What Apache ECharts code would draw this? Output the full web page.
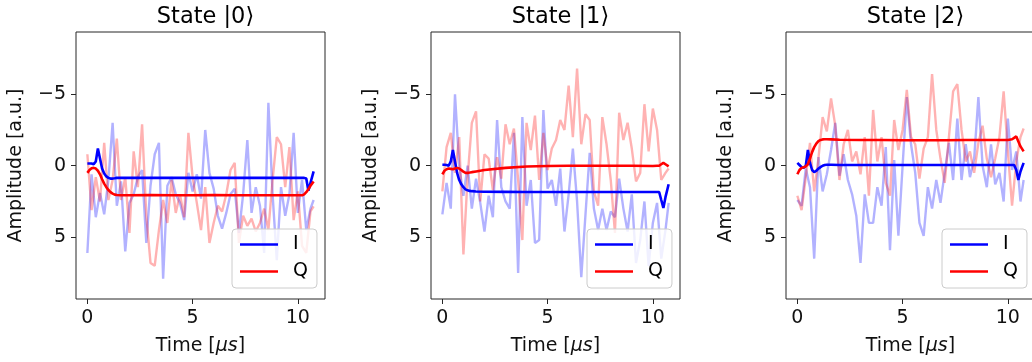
<!DOCTYPE html>
<html><head><meta charset="utf-8">
<script src="https://cdn.jsdelivr.net/npm/echarts@6/dist/echarts.min.js"></script>
<style>html,body{margin:0;padding:0;overflow:hidden;background:#fff}#c{width:1040px;height:362px}</style>
</head><body><div id="c"></div>
<script>
// ---- data ----
const panelTitles = ['State |0\u27E9', 'State |1\u27E9', 'State |2\u27E9'];
const xTicks = [0, 5, 10];
const yTicks = [-5, 0, 5];
const rawTime = [0,0.2,0.4,0.6,0.8,1.0,1.2,1.4,1.6,1.8,2.0,2.2,2.4,2.6,2.8,3.0,3.2,3.4,3.6,3.8,4.0,4.2,4.4,4.6,4.8,5.0,5.2,5.4,5.6,5.8,6.0,6.2,6.4,6.6,6.8,7.0,7.2,7.4,7.6,7.8,8.0,8.2,8.4,8.6,8.8,9.0,9.2,9.4,9.6,9.8,10.0,10.2,10.4,10.6,10.75];
const meanTime = [0,0.1,0.2,0.3,0.4,0.5,0.6,0.7,0.8,0.9,1.0,1.1,1.2,1.3,1.4,1.6,2,3,4,5,6,7,8,9,10,10.2,10.3,10.4,10.5,10.6,10.75];

const i0Raw = [6.1,0.6,3.6,1.9,3.4,1.0,-3.0,2.8,1.1,6.0,2.6,2.0,0.8,0.3,5.4,1.4,-0.8,-1.6,7.9,1.4,0.8,2.0,2.6,3.8,0.5,1.8,0.6,2.3,-2.5,0.5,1.6,3.5,4.4,3.3,2.0,1.6,4.7,2.0,-1.8,3.3,1.5,2.8,6.1,-4.4,2.0,6.6,1.5,3.5,2.0,-2.3,3.3,1.0,4.5,3.0,2.4];
const q0Raw = [-0.8,3.1,0.8,2.5,-1.6,2.4,1.0,-1.9,2.4,0.8,4.7,-1.0,1.5,-2.9,3.5,6.8,7.0,4.5,2.4,4.0,1.0,3.3,2.0,3.6,-2.3,0.8,2.6,4.5,1.5,5.4,4.0,2.8,3.2,2.0,0.3,-0.2,5.4,3.5,4.2,3.7,4.6,4.0,3.0,4.5,1.0,-2.0,-1.5,1.5,-1.3,3.8,1.8,5.6,6.1,3.2,2.85];
const i0Mean = [-0.15,-0.15,-0.15,-0.1,-0.3,-1.2,-0.5,0.2,0.55,0.75,0.85,0.9,0.9,0.88,0.85,0.85,0.85,0.84,0.85,0.84,0.85,0.85,0.84,0.85,0.85,0.85,0.85,0.9,1.75,1.2,0.4];
const q0Mean = [0.5,0.3,0.18,0.15,0.2,0.35,0.6,0.95,1.25,1.5,1.7,1.85,1.95,2.02,2.05,2.07,2.07,2.06,2.07,2.07,2.06,2.07,2.07,2.07,2.07,2.07,2.0,1.85,1.65,1.4,1.1];

const i1Raw = [3.4,1.2,3.0,-5.0,0.0,2.1,0.0,3.0,0.9,2.6,4.6,2.1,3.6,-3.2,1.5,2.5,3.0,-2.3,7.5,-3.4,2.8,1.0,5.4,5.2,-3.9,1.6,1.0,2.8,0.2,4.6,2.0,-1.2,2.5,7.8,3.4,-0.9,3.0,4.5,3.0,4.5,3.2,3.6,0.9,3.0,4.6,2.0,6.8,5.2,2.5,7.0,4.0,2.6,6.5,4.5,2.6];
const q1Raw = [1.8,-1.3,-2.3,0.5,-2.0,6.2,0.8,-3.0,-3.8,2.5,-0.8,-0.5,1.7,-0.6,0.9,-2.9,-1.5,-2.6,1.0,5.2,-3.0,-1.1,-3.5,1.0,-2.3,0.3,-1.2,-1.8,-3.2,-2.5,-5.6,-2.0,-6.8,-1.5,-3.6,-3.2,1.8,2.8,-3.4,-1.5,1.0,4.7,-3.7,-1.8,-3.0,-1.2,1.1,0.5,-4.3,-1.0,-4.0,-2.5,1.0,0.5,0.2];
const i1Mean = [-0.07,-0.07,-0.05,0.0,-0.3,-1.1,-0.3,0.5,1.0,1.3,1.5,1.65,1.72,1.76,1.78,1.8,1.82,1.83,1.84,1.84,1.84,1.84,1.84,1.84,1.84,1.84,1.84,2.4,2.95,2.2,1.3];
const q1Mean = [0.6,0.35,0.25,0.2,0.22,0.25,0.2,0.15,0.2,0.3,0.42,0.5,0.5,0.48,0.45,0.4,0.3,0.15,0.05,0.02,0.0,0.0,0.0,0.0,0.02,0.0,0.0,-0.1,-0.2,-0.1,0.05];

const i2Raw = [2.4,2.8,0.2,1.5,6.5,-0.6,1.8,0.6,-1.1,-3.0,0.7,-0.8,1.0,2.0,3.5,6.8,2.0,4.0,4.0,1.5,2.8,-1.3,5.9,-0.4,4.9,0.0,-4.8,-1.5,0.5,4.0,4.9,1.5,3.0,1.0,2.6,0.5,-1.6,1.0,-3.3,1.0,-1.5,0.8,-0.5,-4.8,0.0,1.5,-1.5,1.3,0.5,2.5,-3.3,0.3,-1.0,2.5,1.0];
const q2Raw = [2.1,3.1,0.8,-1.6,1.8,-0.5,-3.4,-2.4,-4.7,-2.8,1.0,-1.5,-2.5,-0.3,-1.0,0.6,-2.0,2.1,-3.9,-0.3,-2.0,1.2,2.1,-3.2,-1.1,-2.5,-5.3,-2.0,-1.5,0.9,-1.2,-2.0,-6.4,-2.5,-0.5,1.2,-2.0,-5.2,-5.7,-2.5,-0.3,-1.0,0.5,-1.6,-2.8,-0.5,0.8,-0.5,-2.0,-5.2,-1.0,2.8,-0.3,-2.0,-2.6];
const i2Mean = [-0.2,-0.05,0.1,0.15,0.0,-1.1,-0.2,0.3,0.45,0.35,0.2,0.1,0.0,-0.05,-0.07,-0.07,-0.05,-0.05,-0.05,-0.05,-0.05,-0.05,-0.05,-0.05,-0.05,-0.05,-0.05,0.3,1.0,0.4,-0.2];
const q2Mean = [0.6,0.3,0.15,0.1,0.05,-0.1,-0.5,-0.95,-1.3,-1.55,-1.72,-1.8,-1.84,-1.85,-1.85,-1.84,-1.82,-1.8,-1.8,-1.78,-1.78,-1.78,-1.8,-1.8,-1.8,-1.85,-1.95,-2.05,-1.7,-1.35,-1.0];

const rawI = [i0Raw, i1Raw, i2Raw];
const rawQ = [q0Raw, q1Raw, q2Raw];
const meanI = [i0Mean, i1Mean, i2Mean];
const meanQ = [q0Mean, q1Mean, q2Mean];

// ---- layout ----
const FONT = 'DejaVu Sans';
const FS = 19;
const gridLefts = [76, 431, 786];
const GW = 249, GT = 32, GH = 267;
const pair = (xs, ys) => xs.map((x, k) => [x, ys[k]]);
const minus = v => (v < 0 ? '\u2212' + Math.abs(v) : String(v));
const TXT = '#111111';

const grids = [], xAxes = [], yAxes = [], series = [], titles = [], legends = [];
for (let p = 0; p < 3; p++) {
  const L = gridLefts[p];
  grids.push({left: L, top: GT, width: GW, height: GH, show: true, borderColor: '#262626', borderWidth: 1, backgroundColor: 'transparent', containLabel: false});
  xAxes.push({
    type: 'value', gridIndex: p, min: -0.54, max: 11.29,
    axisLine: {show: false, onZero: false}, splitLine: {show: false},
    axisTick: {show: true, inside: false, length: 5, lineStyle: {color: '#262626'}, customValues: xTicks},
    axisLabel: {customValues: xTicks, color: TXT, fontFamily: FONT, fontSize: FS, margin: 10, formatter: minus},
    name: 'Time [{i|\u03BCs}]', nameLocation: 'middle', nameGap: 38,
    nameTextStyle: {color: TXT, fontFamily: FONT, fontSize: FS,
      rich: {i: {fontStyle: 'italic', fontFamily: FONT, fontSize: FS, color: TXT}}}
  });
  yAxes.push({
    type: 'value', gridIndex: p, inverse: true, min: -9.35, max: 9.32,
    axisLine: {show: false, onZero: false}, splitLine: {show: false},
    axisTick: {show: true, inside: false, length: 5, lineStyle: {color: '#262626'}, customValues: yTicks},
    axisLabel: {customValues: yTicks, color: TXT, fontFamily: FONT, fontSize: FS, margin: 10, formatter: minus},
    name: 'Amplitude [a.u.]', nameLocation: 'middle', nameGap: 50, nameRotate: 90,
    nameTextStyle: {color: TXT, fontFamily: FONT, fontSize: FS}
  });
  titles.push({text: panelTitles[p], left: L + GW / 2, top: 1, textAlign: 'center',
    textStyle: {fontFamily: FONT, fontSize: 22.5, fontWeight: 'normal', color: '#000'}});
  legends.push({
    data: ['I', 'Q'], orient: 'vertical', left: L + 156, top: 229,
    icon: 'rect', itemWidth: 38, itemHeight: 2.5, itemGap: 8,
    padding: [6, 9, 7, 8],
    backgroundColor: 'rgba(255,255,255,0.8)', borderColor: '#cccccc', borderWidth: 1, borderRadius: 4,
    textStyle: {fontFamily: FONT, fontSize: FS, color: '#000', padding: [0, 0, 0, 10]},
    selectedMode: false
  });
  const base = {type: 'line', xAxisIndex: p, yAxisIndex: p, symbol: 'none', showSymbol: false, animation: false, silent: true};
  series.push(Object.assign({}, base, {name: 'I raw', data: pair(rawTime, rawI[p]), lineStyle: {color: '#0000ff', width: 2.4, opacity: 0.3}, itemStyle: {color: '#0000ff'}}));
  series.push(Object.assign({}, base, {name: 'Q raw', data: pair(rawTime, rawQ[p]), lineStyle: {color: '#ff0000', width: 2.4, opacity: 0.3}, itemStyle: {color: '#ff0000'}}));
  series.push(Object.assign({}, base, {name: 'I', data: pair(meanTime, meanI[p]), lineStyle: {color: '#0000ff', width: 2.6}, itemStyle: {color: '#0000ff'}}));
  series.push(Object.assign({}, base, {name: 'Q', data: pair(meanTime, meanQ[p]), lineStyle: {color: '#ff0000', width: 2.6}, itemStyle: {color: '#ff0000'}}));
}

const chart = echarts.init(document.getElementById('c'), null, {renderer: 'canvas'});
chart.setOption({
  animation: false, backgroundColor: '#ffffff',
  title: titles, legend: legends, grid: grids, xAxis: xAxes, yAxis: yAxes, series: series
});
</script></body></html>
